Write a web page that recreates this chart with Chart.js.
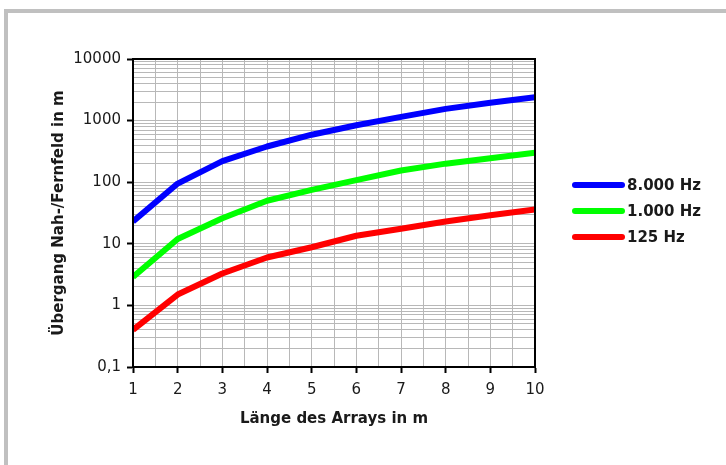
<!DOCTYPE html>
<html>
<head>
<meta charset="utf-8">
<script src="https://cdn.jsdelivr.net/npm/chart.js@4.4.1/dist/chart.umd.min.js"></script>
<style>
  html, body { margin: 0; padding: 0; background: #fff; }
</style>
</head>
<body>
<canvas id="nahfeldChart" width="726" height="465"></canvas>
<script>
// Länge des Arrays (m) und Übergangsentfernung je Frequenz (m)
const arrayLength = [1, 2, 3, 4, 5, 6, 7, 8, 9, 10];
const seriesLabels = ['8.000 Hz', '1.000 Hz', '125 Hz'];
const seriesColors = ['#0000ff', '#00ff00', '#ff0000'];
const hz8000 = [23, 95, 220, 380, 590, 840, 1150, 1550, 1950, 2400];
const hz1000 = [2.9, 12, 26, 50, 75, 108, 155, 200, 245, 300];
const hz125 = [0.4, 1.5, 3.3, 6, 8.8, 13.5, 17.5, 23, 29, 36];

const decades = [0.1, 1, 10, 100, 1000, 10000];
const decadeLabels = ['0,1', '1', '10', '100', '1000', '10000'];
const xTickLabels = ['1', '2', '3', '4', '5', '6', '7', '8', '9', '10'];

const GRID = '#b8b8b8';
const TEXT = '#1a1a1a';

Chart.defaults.font.family = '"DejaVu Sans", Verdana, sans-serif';
Chart.defaults.color = TEXT;

// grauer Rahmen, Plotrahmen und Legende rechts
const framePlugin = {
  id: 'framePlugin',
  beforeDraw(chart) {
    const ctx = chart.ctx;
    ctx.save();
    ctx.fillStyle = '#c0c0c0';
    ctx.fillRect(4, 9, 722, 4);
    ctx.fillRect(4, 9, 4, 456);
    ctx.restore();
  },
  afterDraw(chart) {
    const ctx = chart.ctx;
    const a = chart.chartArea;
    ctx.save();
    ctx.strokeStyle = '#000';
    ctx.lineWidth = 2;
    ctx.strokeRect(a.left, a.top, a.right - a.left, a.bottom - a.top);

    const rows = [185, 211, 237];
    ctx.font = 'bold 15px "DejaVu Sans", Verdana, sans-serif';
    ctx.textBaseline = 'middle';
    ctx.textAlign = 'left';
    chart.data.datasets.forEach((ds, i) => {
      ctx.strokeStyle = ds.borderColor;
      ctx.lineWidth = 6;
      ctx.lineCap = 'round';
      ctx.beginPath();
      ctx.moveTo(575, rows[i]);
      ctx.lineTo(622, rows[i]);
      ctx.stroke();
      ctx.fillStyle = TEXT;
      ctx.fillText(ds.label, 627, rows[i] + 1);
    });
    ctx.restore();
  }
};

const series = [hz8000, hz1000, hz125];

new Chart(document.getElementById('nahfeldChart'), {
  type: 'line',
  data: {
    datasets: series.map((vals, i) => ({
      label: seriesLabels[i],
      data: arrayLength.map((x, j) => ({ x: x, y: vals[j] })),
      borderColor: seriesColors[i],
      backgroundColor: seriesColors[i],
      borderWidth: 6,
      borderJoinStyle: 'round',
      pointRadius: 0,
      tension: 0,
      fill: false
    }))
  },
  options: {
    responsive: false,
    animation: false,
    devicePixelRatio: 1,
    layout: { padding: { left: 0, right: 191, top: 59, bottom: 0 } },
    plugins: {
      legend: { display: false },
      tooltip: { enabled: false }
    },
    scales: {
      x: {
        type: 'linear',
        min: 1,
        max: 10,
        afterFit: (scale) => { scale.height = 98; },
        border: { color: '#000', width: 2 },
        grid: {
          color: GRID,
          lineWidth: 1,
          tickLength: 6,
          tickColor: (c) => Number.isInteger(c.tick.value) ? '#000' : 'rgba(0,0,0,0)',
          tickWidth: 2
        },
        ticks: {
          stepSize: 0.5,
          autoSkip: false,
          maxRotation: 0,
          padding: 8,
          font: { size: 15 },
          callback: (v) => Number.isInteger(v) ? xTickLabels[v - 1] : ''
        },
        title: {
          display: true,
          text: 'Länge des Arrays in m',
          font: { size: 15, weight: 'bold' },
          padding: { top: 0, bottom: 37 }
        }
      },
      y: {
        type: 'logarithmic',
        min: 0.1,
        max: 10000,
        afterFit: (scale) => { scale.width = 133; },
        afterBuildTicks: (scale) => {
          const ticks = [];
          decades.forEach((d, i) => {
            if (i === decades.length - 1) {
              ticks.push({ value: d });
              return;
            }
            for (let k = 1; k < 10; k++) {
              ticks.push({ value: +(d * k).toPrecision(3) });
            }
          });
          scale.ticks = ticks;
        },
        border: { color: '#000', width: 2 },
        grid: {
          color: GRID,
          lineWidth: 1,
          tickLength: 6,
          tickColor: (c) => decades.includes(c.tick.value) ? '#000' : 'rgba(0,0,0,0)',
          tickWidth: 2
        },
        ticks: {
          autoSkip: false,
          padding: 6,
          font: { size: 15 },
          callback: (v) => {
            const i = decades.indexOf(v);
            return i >= 0 ? decadeLabels[i] : '';
          }
        },
        title: {
          display: true,
          text: 'Übergang Nah-/Fernfeld in m',
          font: { size: 15, weight: 'bold' },
          padding: { top: 50, bottom: 0 }
        }
      }
    }
  },
  plugins: [framePlugin]
});
</script>
</body>
</html>
